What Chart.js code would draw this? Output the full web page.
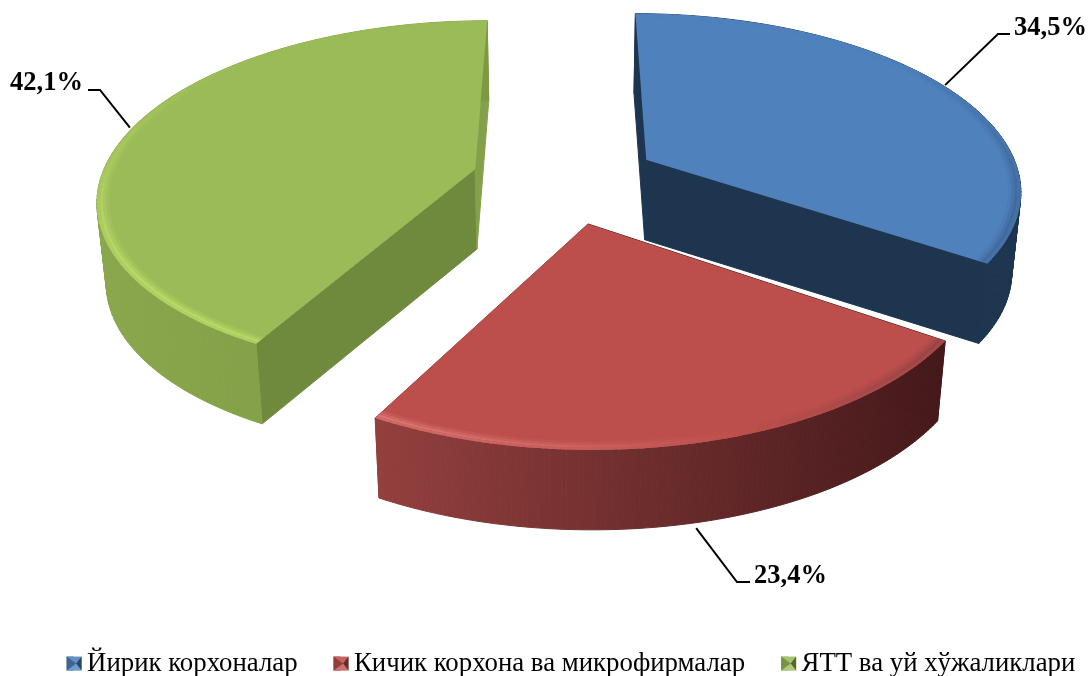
<!DOCTYPE html>
<html>
<head>
<meta charset="utf-8">
<style>
html, body { margin: 0; padding: 0; background: #fff; }
#wrap { position: relative; width: 1091px; height: 676px; overflow: hidden; }
</style>
<script src="https://cdn.jsdelivr.net/npm/chart.js@4"></script>
</head>
<body>
<div id="wrap"><canvas id="pie"></canvas></div>
<script>
const categories = ['Йирик корхоналар', 'Кичик корхона ва микрофирмалар', 'ЯТТ ва уй хўжаликлари'];
const shares = [34.5, 23.4, 42.1];

const topColors = [[79, 129, 189], [188, 79, 76], [155, 187, 89]];
const rimLight = [[120, 165, 220], [236, 140, 136], [200, 232, 110]];
const startFaceColors = ['#1e3550', '#4a1b1b', '#6f893d'];
const endFaceColors = ['#1e3550', '#8f3d3b', '#84a04a'];
const wallStops = [
    ['#1e3550', '#1e3550'],
    ['#93403e', '#44181a'],
    ['#8aa74c', '#7d9944']
];

// perspective fitted to the picture: vanishing point and camera distance
const VP_X = 565, HORIZON = -932, F = 2383, H = 7071, DIST = 6.36;
const DEPTH = 80, SHRINK = 0.98;

// label placement per slice: leader start nudge, elbow, end, text origin
const leaders = [
    { nudge: [1, -1], elbow: [998, 34], end: [1010, 34], text: [1014, 35], fromBottom: false },
    { nudge: [-3, 6], elbow: [737, 582], end: [750, 582], text: [754, 583], fromBottom: true },
    { nudge: [-2, -1], elbow: [100, 90], end: [88, 90], text: [10, 90], fromBottom: false }
];

function rgb(c) {
    return `rgb(${c.map(Math.round).join(',')})`;
}

function mix(a, b, t) {
    return a.map((v, i) => v + (b[i] - v) * t);
}

function project(u, v) {
    const d = DIST - v;
    return { x: VP_X + F * u / d, y: HORIZON + H / d };
}

function lower(p) {
    return { x: VP_X + (p.x - VP_X) * SHRINK, y: p.y + DEPTH };
}

function slicePoint(arc, angle, r) {
    const mid = (arc.startAngle + arc.endAngle) / 2;
    const off = arc.options.offset / arc.outerRadius;
    return project(Math.cos(mid) * off + Math.cos(angle) * r, Math.sin(mid) * off + Math.sin(angle) * r);
}

function rimPoints(arc, r) {
    const pts = [];
    const n = 120;
    for (let i = 0; i <= n; i++) {
        pts.push(slicePoint(arc, arc.startAngle + (arc.endAngle - arc.startAngle) * i / n, r));
    }
    return pts;
}

function fillPoly(ctx, pts, fill, edge) {
    ctx.beginPath();
    pts.forEach((p, i) => i ? ctx.lineTo(p.x, p.y) : ctx.moveTo(p.x, p.y));
    ctx.closePath();
    ctx.fillStyle = fill;
    ctx.fill();
    if (edge) {
        ctx.strokeStyle = fill;
        ctx.lineWidth = 1;
        ctx.stroke();
    }
}

function drawBevel(ctx, arc, i) {
    const layers = [[0.968, 0.976, 0.2], [0.976, 0.984, 0.5], [0.984, 0.992, 0.85], [0.992, 1, 0.6]];
    const n = 90;
    const step = (arc.endAngle - arc.startAngle) / n;
    layers.forEach(([rIn, rOut, weight]) => {
        for (let k = 0; k < n; k++) {
            const a0 = arc.startAngle + step * k;
            const a1 = Math.min(a0 + step * 1.3, arc.endAngle);
            const am = a0 + step / 2;
            // light falls on the front left of the rim, the right side goes dark
            const f = Math.cos(am + Math.PI / 2 - 250 * Math.PI / 180);
            const front = Math.max(0, Math.sin(am) * 0.6 + 0.45);
            const level = Math.abs(f) * weight * front;
            const c = f > 0 ? mix(topColors[i], rimLight[i], level) : mix(topColors[i], [20, 30, 50], level * 0.55);
            fillPoly(ctx, [slicePoint(arc, a0, rIn), slicePoint(arc, a1, rIn), slicePoint(arc, a1, rOut), slicePoint(arc, a0, rOut)], rgb(c));
        }
    });
}

const pie3d = {
    id: 'pie3d',
    // the arc elements give the angles, the picture is their projected version
    beforeDatasetsDraw(chart) {
        const ctx = chart.ctx;
        const arcs = chart.getDatasetMeta(0).data;
        ctx.save();
        arcs.forEach((arc, i) => {
            const rim = rimPoints(arc, 1);
            const centre = slicePoint(arc, 0, 0);
            const first = rim[0], last = rim[rim.length - 1];

            // radial faces
            fillPoly(ctx, [centre, first, lower(first), lower(centre)], startFaceColors[i], true);
            fillPoly(ctx, [centre, last, lower(last), lower(centre)], endFaceColors[i], true);

            // outer wall, quad by quad so the silhouette stays convex
            const xs = rim.map(p => p.x);
            const grad = ctx.createLinearGradient(Math.min(...xs), 0, Math.max(...xs), 0);
            grad.addColorStop(0, wallStops[i][0]);
            grad.addColorStop(1, wallStops[i][1]);
            for (let k = 0; k < rim.length - 1; k++) {
                fillPoly(ctx, [rim[k], rim[k + 1], lower(rim[k + 1]), lower(rim[k])], grad, true);
            }

            // top
            fillPoly(ctx, [centre].concat(rim), rgb(topColors[i]));
            drawBevel(ctx, arc, i);
        });
        ctx.restore();
        return false;
    },
    afterDraw(chart) {
        const ctx = chart.ctx;
        const arcs = chart.getDatasetMeta(0).data;
        ctx.save();
        arcs.forEach((arc, i) => {
            const l = leaders[i];
            let p = slicePoint(arc, (arc.startAngle + arc.endAngle) / 2, 1);
            if (l.fromBottom) p = lower(p);
            ctx.beginPath();
            ctx.moveTo(p.x + l.nudge[0], p.y + l.nudge[1]);
            ctx.lineTo(l.elbow[0], l.elbow[1]);
            ctx.lineTo(l.end[0], l.end[1]);
            ctx.strokeStyle = '#000';
            ctx.lineWidth = 2;
            ctx.stroke();
            ctx.fillStyle = '#000';
            ctx.font = 'bold 26.5px "Liberation Serif"';
            ctx.textAlign = 'left';
            ctx.textBaseline = 'alphabetic';
            ctx.fillText(shares[i].toFixed(1).replace('.', ',') + '%', l.text[0], l.text[1]);
        });

        // legend keys are wider than the library box and have a small pyramid shading
        chart.legend.legendItems.forEach((item, i) => {
            const b = chart.legend.legendHitBoxes[i];
            const w = 15, h = 14, x = b.left, y = b.top + (b.height - h) / 2;
            const c = { x: x + w / 2 + 2, y: y + h / 2 };
            const tl = { x, y }, tr = { x: x + w, y }, br = { x: x + w, y: y + h }, bl = { x, y: y + h };
            fillPoly(ctx, [tl, tr, br, bl], rgb(topColors[i]));
            fillPoly(ctx, [tl, tr, c], 'rgba(255,255,255,0.12)');
            fillPoly(ctx, [tr, br, c], 'rgba(0,0,0,0.45)');
            fillPoly(ctx, [bl, br, c], 'rgba(255,255,255,0.2)');
            fillPoly(ctx, [tl, bl, c], 'rgba(0,0,0,0.22)');
        });
        ctx.restore();
    }
};

new Chart(document.getElementById('pie'), {
    type: 'pie',
    data: {
        labels: categories,
        datasets: [{
            data: shares,
            backgroundColor: topColors.map(rgb),
            borderWidth: 0,
            offset: 60
        }]
    },
    options: {
        responsive: true,
        maintainAspectRatio: false,
        animation: false,
        radius: 240,
        layout: { padding: { left: 11, right: -40, top: 0, bottom: -11 } },
        events: [],
        plugins: {
            tooltip: { enabled: false },
            legend: {
                position: 'bottom',
                labels: {
                    color: '#000',
                    boxWidth: 7,
                    boxHeight: 14,
                    padding: 36,
                    font: { family: '"Liberation Serif"', size: 26.8 }
                }
            }
        }
    },
    plugins: [pie3d]
});
</script>
</body>
</html>
